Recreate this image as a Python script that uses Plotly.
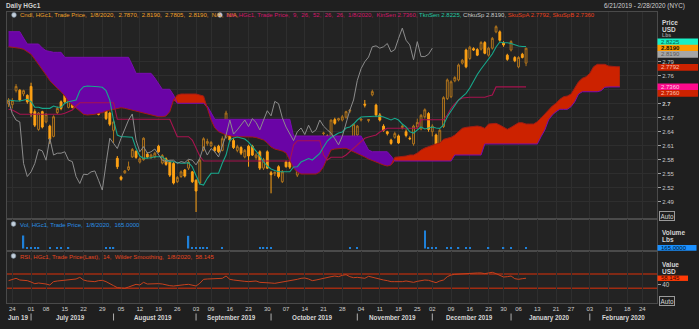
import plotly.graph_objects as go
import pandas as pd

W, H = 699, 329
FONT = "Liberation Sans"

# ---------------- trading calendar (NYC) ----------------
HOLIDAYS = ["2019-07-04", "2019-09-02", "2019-11-28", "2019-12-25",
            "2020-01-01", "2020-01-20", "2020-02-17"]
days = [d for d in pd.bdate_range("2019-06-21", "2020-02-28")
        if d.strftime("%Y-%m-%d") not in HOLIDAYS]

# ---------------- data ----------------
open_ = [2.700, 2.698, 2.728, 2.729, 2.721, 2.718, 2.737, 2.683, 2.645, 2.683,
         2.661, 2.652, 2.630, 2.681, 2.704, 2.718, 2.692, 2.709, 2.703, 2.728,
         2.703, 2.706, 2.700, 2.692, 2.688, 2.695, 2.715, 2.680, 2.643, 2.583,
         2.543, 2.552, 2.559, 2.586, 2.598, 2.575, 2.580, 2.592, 2.585, 2.586,
         2.609, 2.573, 2.582, 2.575, 2.572, 2.533, 2.544, 2.558, 2.562, 2.554,
         2.536, 2.530, 2.601, 2.615, 2.610, 2.606, 2.609, 2.600, 2.628, 2.655,
         2.621, 2.600, 2.606, 2.586, 2.609, 2.609, 2.585, 2.597, 2.562, 2.597,
         2.552, 2.550, 2.565, 2.533, 2.575, 2.575, 2.600, 2.547, 2.597, 2.614,
         2.621, 2.580, 2.583, 2.586, 2.636, 2.631, 2.629, 2.666, 2.665, 2.665,
         2.671, 2.684, 2.629, 2.633, 2.665, 2.699, 2.664, 2.719, 2.697, 2.676,
         2.652, 2.640, 2.622, 2.628, 2.631, 2.649, 2.640, 2.626, 2.614, 2.650,
         2.646, 2.672, 2.679, 2.640, 2.633, 2.612, 2.651, 2.711, 2.715, 2.749,
         2.751, 2.787, 2.815, 2.797, 2.818, 2.816, 2.817, 2.831, 2.804, 2.819,
         2.854, 2.854, 2.830, 2.804, 2.815, 2.799, 2.779, 2.806, 2.787]
high = [2.712, 2.712, 2.742, 2.731, 2.730, 2.720, 2.745, 2.688, 2.682, 2.685,
        2.680, 2.655, 2.675, 2.694, 2.707, 2.722, 2.728, 2.712, 2.709, 2.790,
        2.710, 2.710, 2.708, 2.728, 2.690, 2.725, 2.718, 2.683, 2.664, 2.588,
        2.546, 2.558, 2.576, 2.605, 2.600, 2.585, 2.628, 2.596, 2.593, 2.597,
        2.612, 2.592, 2.585, 2.578, 2.575, 2.545, 2.557, 2.560, 2.580, 2.556,
        2.538, 2.582, 2.628, 2.625, 2.620, 2.610, 2.612, 2.630, 2.685, 2.660,
        2.626, 2.612, 2.609, 2.603, 2.612, 2.612, 2.594, 2.600, 2.584, 2.600,
        2.556, 2.555, 2.568, 2.558, 2.578, 2.578, 2.605, 2.566, 2.625, 2.617,
        2.625, 2.584, 2.596, 2.631, 2.640, 2.634, 2.666, 2.670, 2.670, 2.676,
        2.685, 2.688, 2.657, 2.654, 2.668, 2.708, 2.667, 2.730, 2.700, 2.680,
        2.656, 2.642, 2.625, 2.640, 2.634, 2.656, 2.645, 2.630, 2.655, 2.668,
        2.678, 2.690, 2.682, 2.656, 2.636, 2.646, 2.716, 2.754, 2.750, 2.759,
        2.786, 2.796, 2.818, 2.824, 2.821, 2.819, 2.834, 2.834, 2.822, 2.843,
        2.868, 2.857, 2.834, 2.807, 2.836, 2.802, 2.802, 2.809, 2.819]
low = [2.693, 2.690, 2.724, 2.705, 2.716, 2.700, 2.672, 2.650, 2.642, 2.647,
       2.658, 2.614, 2.628, 2.678, 2.686, 2.700, 2.690, 2.690, 2.700, 2.725,
       2.700, 2.688, 2.698, 2.690, 2.675, 2.693, 2.665, 2.652, 2.616, 2.560,
       2.535, 2.550, 2.556, 2.584, 2.582, 2.572, 2.578, 2.583, 2.582, 2.583,
       2.595, 2.570, 2.567, 2.543, 2.527, 2.530, 2.541, 2.542, 2.558, 2.530,
       2.468, 2.527, 2.598, 2.610, 2.607, 2.596, 2.594, 2.598, 2.625, 2.618,
       2.603, 2.596, 2.590, 2.583, 2.565, 2.588, 2.580, 2.558, 2.558, 2.560,
       2.508, 2.545, 2.540, 2.530, 2.563, 2.560, 2.595, 2.543, 2.594, 2.600,
       2.602, 2.575, 2.580, 2.583, 2.632, 2.620, 2.626, 2.655, 2.662, 2.662,
       2.668, 2.680, 2.625, 2.630, 2.662, 2.692, 2.660, 2.716, 2.672, 2.662,
       2.640, 2.632, 2.612, 2.625, 2.614, 2.645, 2.628, 2.622, 2.610, 2.646,
       2.643, 2.668, 2.640, 2.630, 2.604, 2.608, 2.648, 2.708, 2.712, 2.746,
       2.748, 2.784, 2.776, 2.794, 2.813, 2.802, 2.814, 2.806, 2.801, 2.816,
       2.851, 2.833, 2.822, 2.792, 2.812, 2.789, 2.776, 2.797, 2.7805]
close = [2.708, 2.707, 2.737, 2.708, 2.728, 2.704, 2.680, 2.654, 2.680, 2.650,
         2.677, 2.624, 2.672, 2.690, 2.690, 2.704, 2.708, 2.692, 2.706, 2.745,
         2.707, 2.692, 2.705, 2.697, 2.677, 2.709, 2.668, 2.656, 2.661, 2.565,
         2.538, 2.556, 2.565, 2.602, 2.585, 2.582, 2.626, 2.586, 2.590, 2.594,
         2.597, 2.589, 2.570, 2.547, 2.530, 2.542, 2.554, 2.545, 2.575, 2.533,
         2.513, 2.579, 2.625, 2.619, 2.617, 2.600, 2.597, 2.625, 2.680, 2.622,
         2.606, 2.608, 2.594, 2.600, 2.588, 2.590, 2.590, 2.562, 2.580, 2.562,
         2.548, 2.553, 2.544, 2.554, 2.565, 2.564, 2.597, 2.565, 2.622, 2.601,
         2.604, 2.578, 2.593, 2.629, 2.637, 2.622, 2.665, 2.658, 2.668, 2.672,
         2.683, 2.686, 2.656, 2.652, 2.667, 2.697, 2.666, 2.726, 2.676, 2.665,
         2.643, 2.636, 2.615, 2.636, 2.616, 2.652, 2.632, 2.625, 2.652, 2.660,
         2.675, 2.687, 2.645, 2.652, 2.608, 2.643, 2.713, 2.751, 2.747, 2.756,
         2.783, 2.793, 2.779, 2.821, 2.815, 2.804, 2.831, 2.808, 2.819, 2.840,
         2.865, 2.836, 2.826, 2.795, 2.833, 2.792, 2.799, 2.799, 2.819]

tenkan = [2.7079, 2.7064, 2.7058, 2.7058, 2.7079, 2.7094, 2.7043, 2.6923, 2.6923, 2.6901,
          2.6901, 2.6901, 2.6951, 2.6923, 2.6923, 2.7009, 2.7043, 2.7064, 2.7079, 2.7279,
          2.7364, 2.7379, 2.7379, 2.7364, 2.7364, 2.7351, 2.7279, 2.7079, 2.6651, 2.6329,
          2.6293, 2.6293, 2.6293, 2.6280, 2.6044, 2.5879, 2.5830, 2.5830, 2.5843, 2.5864,
          2.5864, 2.5864, 2.5794, 2.5757, 2.5757, 2.5736, 2.5723, 2.5723, 2.5736, 2.5650,
          2.5451, 2.5280, 2.5258, 2.5402, 2.5509, 2.5509, 2.5509, 2.5723, 2.5901, 2.6222,
          2.6265, 2.6287, 2.6265, 2.6244, 2.6179, 2.6094, 2.5986, 2.5879, 2.5751, 2.5665,
          2.5601, 2.5569, 2.5543, 2.5543, 2.5543, 2.5543, 2.5644, 2.5650, 2.5751, 2.5794,
          2.5826, 2.5794, 2.5858, 2.5937, 2.6072, 2.6201, 2.6276, 2.6329, 2.6372, 2.6394,
          2.6479, 2.6501, 2.6565, 2.6651, 2.6715, 2.6722, 2.6722, 2.6722, 2.6722, 2.6737,
          2.6715, 2.6687, 2.6651, 2.6687, 2.6651, 2.6565, 2.6501, 2.6400, 2.6372, 2.6436,
          2.6501, 2.6458, 2.6479, 2.6501, 2.6479, 2.6473, 2.6544, 2.6722, 2.6844, 2.6951,
          2.7079, 2.7150, 2.7223, 2.7336, 2.7486, 2.7626, 2.7744, 2.7851, 2.7936, 2.8065,
          2.8215, 2.8322, 2.8307, 2.8307, 2.8290, 2.8258, 2.8236, 2.8226, 2.8225]

kijun = [2.6880, 2.6865, 2.6822] + [2.6773] * 12 + [2.6794, 2.6829, 2.6865, 2.6951] \
    + [2.7021] * 10 + [2.6666] * 15 + [2.6479] + [2.6293] * 4 + [2.6222, 2.6051, 2.5879] \
    + [2.5772] * 24 + [2.6115] + [2.6207] * 7 + [2.5901, 2.5794] + [2.5852] * 4 \
    + [2.5901, 2.5971, 2.6051, 2.6115, 2.6179, 2.6259, 2.6287, 2.6308, 2.6329, 2.6394, 2.6436] \
    + [2.6473] * 9 + [2.6657] * 7 + [2.6758, 2.6901, 2.6994, 2.7079, 2.7122] \
    + [2.7137] * 6 + [2.7165, 2.7186] + [2.7360] * 9

chikou = [2.706, 2.679, 2.665, 2.661, 2.572, 2.544, 2.554, 2.572, 2.602, 2.599,
          2.579, 2.626, 2.590, 2.594, 2.594, 2.597, 2.579, 2.576, 2.544, 2.529,
          2.549, 2.548, 2.554, 2.556, 2.536, 2.515, 2.572, 2.626, 2.615, 2.604,
          2.626, 2.644, 2.665, 2.678, 2.622, 2.597, 2.608, 2.594, 2.597, 2.603,
          2.590, 2.579, 2.576, 2.579, 2.579, 2.572, 2.576, 2.574, 2.581, 2.579,
          2.569, 2.583, 2.608, 2.590, 2.604, 2.597, 2.586, 2.612, 2.633, 2.665,
          2.635, 2.644, 2.655, 2.665, 2.651, 2.668, 2.660, 2.644, 2.665, 2.685,
          2.674, 2.705, 2.700, 2.670, 2.650, 2.635, 2.621, 2.640, 2.648, 2.634,
          2.654, 2.638, 2.644, 2.665, 2.652, 2.644, 2.637, 2.625, 2.612, 2.630,
          2.660, 2.686, 2.708, 2.750, 2.775, 2.790, 2.800, 2.822, 2.824, 2.819,
          2.822, 2.829, 2.811, 2.816, 2.840, 2.862, 2.836, 2.826, 2.794, 2.833,
          2.801, 2.801, 2.806, 2.819]

span_a = [2.8221, 2.8215, 2.8200, 2.8187, 2.8166, 2.8114, 2.8059, 2.7951, 2.7844, 2.7737,
          2.7615, 2.7493, 2.7401, 2.7330, 2.7257, 2.7165, 2.7043, 2.6972, 2.6901, 2.6829,
          2.6773, 2.6758, 2.6758, 2.6773, 2.6794, 2.6807, 2.6844, 2.6865, 2.6880, 2.6901,
          2.6914, 2.6901, 2.6880, 2.6865, 2.6844, 2.6822, 2.6794, 2.6773, 2.6752, 2.6730,
          2.6722, 2.6722, 2.6737, 2.6829, 2.7079, 2.7186, 2.7208, 2.7208, 2.7208, 2.7208,
          2.7208, 2.7186, 2.7165, 2.6908, 2.6651, 2.6479, 2.6400, 2.6366, 2.6329, 2.6314,
          2.6293, 2.6293, 2.6293, 2.6293, 2.6293, 2.6287, 2.6276, 2.6244, 2.6222, 2.6158,
          2.6072, 2.6029, 2.6008, 2.5986, 2.5944, 2.5794, 2.5622, 2.5537, 2.5494, 2.5494,
          2.5494, 2.5494, 2.5494, 2.5537, 2.5650, 2.5837, 2.6008, 2.6029, 2.6040, 2.6044,
          2.6044, 2.6008, 2.5971, 2.5944, 2.5901, 2.5858, 2.5815, 2.5783, 2.5751, 2.5708,
          2.5687, 2.5665, 2.5687, 2.5852, 2.5858, 2.5869, 2.5879, 2.5901, 2.5901, 2.5944,
          2.6008, 2.6051, 2.6083, 2.6104, 2.6137, 2.6158, 2.6237, 2.6259, 2.6280, 2.6329,
          2.6400, 2.6473, 2.6494, 2.6507, 2.6522, 2.6522, 2.6507, 2.6473, 2.6565, 2.6580,
          2.6580, 2.6544, 2.6494, 2.6452, 2.6494, 2.6544, 2.6593, 2.6593, 2.6565, 2.6565,
          2.6565, 2.6614, 2.6709, 2.6779, 2.6865, 2.6951, 2.7009, 2.7094, 2.7150, 2.7165,
          2.7208, 2.7330, 2.7471, 2.7544, 2.7579, 2.7651, 2.7793, 2.7844, 2.7844, 2.7844,
          2.7808, 2.7793, 2.7793, 2.7792]

span_b = [2.8543] * 4 + [2.8408] + [2.8279] * 4 + [2.8193, 2.8136, 2.8119] + [2.8101] * 3 \
    + [2.7994] * 18 + [2.7829] + [2.7651] * 5 + [2.7551, 2.7422] + [2.7309] * 3 + [2.7186] \
    + [2.7009] * 8 + [2.6951, 2.6794] + [2.6666] * 21 + [2.6308] * 19 + [2.6158, 2.6008] \
    + [2.5971] * 5 + [2.5879] + [2.5772] * 16 + [2.5901] * 8 + [2.6137] * 15 \
    + [2.6293, 2.6436, 2.6651, 2.6758, 2.6829] + [2.6880] * 3 + [2.6936, 2.7043, 2.7208] \
    + [2.7257] * 5 + [2.7279, 2.7351] + [2.7360] * 4

rsi = [51.4, 55.1, 57.9, 53.2, 52.3, 51.4, 47.6, 42.9, 44.8, 43.9,
       42.0, 39.2, 48.6, 50.4, 51.4, 53.2, 54.2, 55.1, 56.0, 60.7,
       53.2, 50.4, 49.5, 48.6, 51.4, 52.3, 48.6, 43.9, 37.4, 31.8,
       29.9, 29.9, 33.6, 37.4, 41.1, 39.2, 46.7, 42.0, 43.0, 43.9,
       43.0, 42.0, 39.2, 37.4, 36.4, 38.3, 39.2, 40.2, 41.1, 38.3,
       36.4, 43.9, 55.1, 56.0, 56.0, 56.0, 56.0, 57.9, 64.4, 55.1,
       53.2, 51.4, 50.4, 49.5, 48.6, 49.5, 50.4, 46.7, 46.7, 46.7,
       44.8, 43.9, 45.8, 46.7, 47.6, 49.5, 51.4, 55.1, 57.9, 58.8,
       56.0, 51.4, 53.2, 56.0, 58.8, 60.7, 62.5, 64.4, 62.5, 66.3,
       68.1, 62.5, 59.7, 60.7, 58.8, 57.9, 63.5, 60.7, 57.9, 54.2,
       53.2, 51.4, 48.6, 48.6, 47.6, 48.6, 50.4, 48.6, 46.7, 49.5,
       51.4, 53.2, 52.3, 49.5, 45.8, 50.4, 53.2, 62.5, 67.2, 69.1,
       70.0, 70.0, 70.0, 71.0, 71.9, 72.8, 72.8, 71.0, 72.8, 74.7,
       71.0, 66.3, 61.6, 62.5, 64.4, 56.9, 55.1, 56.9, 58.145]

vol_day = [4, 5, 6, 7, 8, 11, 13, 14, 16, 26, 27, 28, 48, 49, 50, 51, 52, 53, 57,
           67, 68, 69, 70, 91, 93, 111, 112, 113, 114, 117, 118, 120, 122, 123,
           128, 132, 134, 138]
vol_value = [3900, 320, 280, 300, 260, 260, 250, 300, 260, 250, 300, 260, 3800, 350,
             300, 300, 320, 260, 250, 260, 250, 300, 260, 250, 260, 5400, 350, 300,
             300, 260, 250, 250, 250, 260, 250, 250, 250, 165]

PRICE_TICKS = [2.49, 2.52, 2.55, 2.58, 2.61, 2.64, 2.67, 2.70, 2.73, 2.76, 2.79, 2.82]
PRICE_TICK_TEXT = ["2.49", "2.52", "2.55", "2.58", "2.61", "2.64", "2.67", "<b>2.7</b>",
                   "", "2.76", "2.79", ""]
MONTH_LABELS = ["Jun 19", "July 2019", "August 2019", "September 2019", "October 2019",
                "November 2019", "December 2019", "January 2020", "February 2020"]

# ---------------- colours ----------------
BG = "#1f1f1f"
PLOT_BG = "#232323"
GRID = "#2e2e2e"
FRAME = "#4a4a4a"
PURPLE = "#6a04a6"
RED = "#cc2200"
C_UP = "#b0741c"
C_DN = "#ffa214"
C_TENKAN = "#17a88c"
C_KIJUN = "#a8134f"
C_CHIKOU = "#8c8c8c"
C_SPANA = "#a01c14"
C_SPANB = "#7a0cb0"
C_RSI = "#c8401c"
C_RSI_LEVEL = "#a02c12"
C_VOL = "#1f80d8"

# ---------------- geometry helpers (pixels -> paper) ----------------
def fx(px):
    return px / W

def fy(py):
    return 1 - py / H

X_LEFT, X_RIGHT = 7, 657
MAIN_TOP, MAIN_BOT = 12, 219
VOL_BOT = 251
RSI_BOT = 303
XR = [-0.413, 172.92]
YR_MAIN = [2.4530, 2.8965]
YR_VOL = [-750, 8850]
YR_RSI = [-11.1, 134.3]
PPX_MAIN = (YR_MAIN[1] - YR_MAIN[0]) / (MAIN_BOT - MAIN_TOP)
PPX_VOL = (YR_VOL[1] - YR_VOL[0]) / (VOL_BOT - MAIN_BOT)
PPX_RSI = (YR_RSI[1] - YR_RSI[0]) / (RSI_BOT - VOL_BOT)

# weekly ticks (first trading day of every week, the partial first week skipped)
week_ticks, seen = [], set()
for i, d in enumerate(days):
    k = tuple(d.isocalendar())[:2]
    if k not in seen:
        seen.add(k)
        week_ticks.append(i)
week_ticks = week_ticks[1:]
week_text = [days[i].strftime("%d") for i in week_ticks]

month_first, month_last = {}, {}
for i, d in enumerate(days):
    k = (d.year, d.month)
    month_first.setdefault(k, i)
    month_last[k] = i
month_keys = sorted(month_first)

cx = list(range(len(close)))
kx = list(range(len(span_a)))
chx = list(range(len(chikou)))
cloud_low = [min(a, b) for a, b in zip(span_a, span_b)]

fig = go.Figure()

# Ichimoku cloud
fig.add_trace(go.Scatter(x=kx, y=cloud_low, mode="lines", line=dict(width=0),
                         hoverinfo="skip"))
fig.add_trace(go.Scatter(x=kx, y=span_b, mode="lines", line=dict(width=0),
                         fill="tonexty", fillcolor=PURPLE, hoverinfo="skip"))
fig.add_trace(go.Scatter(x=kx, y=cloud_low, mode="lines", line=dict(width=0),
                         hoverinfo="skip"))
fig.add_trace(go.Scatter(x=kx, y=span_a, mode="lines", line=dict(width=0),
                         fill="tonexty", fillcolor=RED, hoverinfo="skip"))
fig.add_trace(go.Scatter(x=kx, y=span_b, mode="lines", line=dict(color=C_SPANB, width=1)))
fig.add_trace(go.Scatter(x=kx, y=span_a, mode="lines", line=dict(color=C_SPANA, width=1)))

# Ichimoku lines
fig.add_trace(go.Scatter(x=cx, y=kijun, mode="lines", line=dict(color=C_KIJUN, width=1.1)))
fig.add_trace(go.Scatter(x=cx, y=tenkan, mode="lines", line=dict(color=C_TENKAN, width=1.1)))
fig.add_trace(go.Scatter(x=chx, y=chikou, mode="lines", line=dict(color=C_CHIKOU, width=1)))

# candles
fig.add_trace(go.Candlestick(
    x=cx, open=open_, high=high, low=low, close=close, whiskerwidth=0,
    increasing=dict(line=dict(color=C_UP, width=1), fillcolor="rgba(0,0,0,0)"),
    decreasing=dict(line=dict(color=C_DN, width=1), fillcolor=C_DN),
    xaxis="x", yaxis="y"))

# volume
fig.add_trace(go.Bar(x=vol_day, y=vol_value, width=0.35, marker=dict(color=C_VOL, line=dict(width=0)),
                     xaxis="x2", yaxis="y2"))

# RSI
fig.add_trace(go.Scatter(x=cx, y=rsi, mode="lines", line=dict(color=C_RSI, width=1),
                         xaxis="x3", yaxis="y3"))

axis_common = dict(range=XR, tickvals=week_ticks, showgrid=True, gridcolor=GRID, gridwidth=1,
                   zeroline=False, showline=True, linecolor=FRAME, mirror=True,
                   domain=[fx(X_LEFT), fx(X_RIGHT)], automargin=False, fixedrange=True)

fig.update_layout(
    width=W, height=H, margin=dict(l=0, r=0, t=0, b=0),
    paper_bgcolor=BG, plot_bgcolor=PLOT_BG, showlegend=False, boxgap=0.3,
    font=dict(family=FONT, size=6, color="#c8c8c8"),
    xaxis=dict(anchor="y", showticklabels=False, ticks="", rangeslider=dict(visible=False),
               **axis_common),
    xaxis2=dict(anchor="y2", showticklabels=False, ticks="", **axis_common),
    xaxis3=dict(anchor="y3", showticklabels=True, ticktext=week_text, ticks="",
                ticklen=0, tickfont=dict(family=FONT, size=6, color="#cfcfcf"), **axis_common),
    yaxis=dict(domain=[fy(MAIN_BOT), fy(MAIN_TOP)], range=YR_MAIN, side="right", anchor="x",
               tickvals=PRICE_TICKS, ticktext=PRICE_TICK_TEXT, ticks="outside", ticklen=3,
               tickcolor="#a0a0a0", tickfont=dict(family=FONT, size=6, color="#c8c8c8"),
               showgrid=True, gridcolor=GRID, zeroline=False, showline=True,
               linecolor=FRAME, mirror=True, automargin=False, fixedrange=True),
    yaxis2=dict(domain=[fy(VOL_BOT), fy(MAIN_BOT)], range=YR_VOL, side="right", anchor="x2",
                showticklabels=False, showgrid=False, zeroline=False, showline=True,
                linecolor=FRAME, mirror=True, automargin=False, fixedrange=True),
    yaxis3=dict(domain=[fy(RSI_BOT), fy(VOL_BOT)], range=YR_RSI, side="right", anchor="x3",
                tickvals=[40], ticktext=["40"], ticks="outside", ticklen=3, tickcolor="#a0a0a0",
                tickfont=dict(family=FONT, size=6.3, color="#c8c8c8"),
                showgrid=False, zeroline=False, showline=True, linecolor=FRAME, mirror=True,
                automargin=False, fixedrange=True),
)

shapes = []
annotations = []

# RSI 70 / 30 levels
for lvl in (70, 30):
    shapes.append(dict(type="line", xref="paper", yref="y3", x0=fx(X_LEFT), x1=fx(X_RIGHT),
                       y0=lvl, y1=lvl, line=dict(color=C_RSI_LEVEL, width=1.6), layer="below"))

# month separators + labels
for k in month_keys[1:]:
    shapes.append(dict(type="line", xref="x3", yref="paper", x0=month_first[k], x1=month_first[k],
                       y0=fy(320.5), y1=fy(313.5), line=dict(color="#b0b0b0", width=1)))
for k, lab in zip(month_keys, MONTH_LABELS):
    annotations.append(dict(xref="x3", yref="paper", x=(month_first[k] + month_last[k]) / 2,
                            y=fy(317.5), text="<b>%s</b>" % lab, showarrow=False,
                            xanchor="center", yanchor="middle",
                            font=dict(family=FONT, size=6.3, color="#d6d6d6")))

# header texts
annotations.append(dict(xref="paper", yref="paper", x=fx(4), y=fy(6.5), text="<b>Daily HGc1</b>",
                        showarrow=False, xanchor="left", yanchor="middle",
                        font=dict(family=FONT, size=6.5, color="#d0d0d0")))
annotations.append(dict(xref="paper", yref="paper", x=fx(687), y=fy(6.5),
                        text="6/21/2019 - 2/28/2020 (NYC)", showarrow=False,
                        xanchor="right", yanchor="middle",
                        font=dict(family=FONT, size=6.3, color="#d0d0d0")))

# legend icons
for (ix, iy) in [(14, 15), (220, 15), (13.5, 224), (13.5, 256)]:
    shapes.append(dict(type="circle", xref="paper", yref="paper", x0=fx(ix - 2.4), x1=fx(ix + 2.4),
                       y0=fy(iy + 2.4), y1=fy(iy - 2.4), fillcolor="#c4d0dc",
                       line=dict(color="#6f7f90", width=0.6)))

def leg(x, y, html):
    annotations.append(dict(xref="paper", yref="paper", x=fx(x), y=fy(y), text=html,
                            showarrow=False, xanchor="left", yanchor="middle",
                            font=dict(family=FONT, size=6)))

leg(18, 15.5, "<span style='color:#f0a028'>Cndl, HGc1, Trade Price,  1/8/2020,  2.7870,  2.8190,  "
              "2.7805,  2.8190,  N/A,  N/A,</span>")
leg(224, 15.5, "<span style='color:#d4166a'>Ichi, HGc1, Trade Price,  9,  26,  52,  26,  26,  1/8/2020,  "
               "KinSen 2.7360, </span><span style='color:#22c9a2'>TknSen 2.8225, </span>"
               "<span style='color:#c8c8c8'>ChkuSp 2.8190, </span>"
               "<span style='color:#e8401c'>SkuSpA 2.7792, </span>"
               "<span style='color:#e8401c'>SkuSpB 2.7360</span>")
leg(17.5, 224.5, "<span style='color:#2a90e6'>Vol, HGc1, Trade Price,  1/8/2020,  165.0000</span>")
leg(17.5, 256.5, "<span style='color:#e8461e'>RSI, HGc1, Trade Price(Last),  14,  Wilder Smoothing,  "
                 "1/8/2020,  58.145</span>")

# right-column captions
def cap(y, text, bold=False, color="#d4d4d4", size=6.5):
    annotations.append(dict(xref="paper", yref="paper", x=fx(660), y=fy(y),
                            text=("<b>%s</b>" % text) if bold else text, showarrow=False,
                            xanchor="left", yanchor="middle",
                            font=dict(family=FONT, size=size, color=color)))

cap(22.5, "Price", True)
cap(29.3, "USD", True)
cap(34.6, "Lbs", True, "#9a9a9a", 5.2)
cap(232.5, "Volume", True)
cap(239.7, "Lbs", True)
cap(264, "Value", True)
cap(271.5, "USD", True)

def auto_box(y):
    annotations.append(dict(xref="paper", yref="paper", x=fx(659), y=fy(y), text="Auto",
                            showarrow=False, xanchor="left", yanchor="middle",
                            bordercolor="#9a9a9a", borderwidth=1, borderpad=0.5,
                            font=dict(family=FONT, size=6.3, color="#d8d8d8")))

auto_box(216)
auto_box(300.5)

# value tags on the right axis
def tag(yref, center, half, text, bg, fg, bold=False, x1=698, size=6.0):
    shapes.append(dict(type="rect", xref="paper", yref=yref, x0=fx(657.5), x1=fx(x1),
                       y0=center - half, y1=center + half, fillcolor=bg, line=dict(width=0),
                       layer="above"))
    annotations.append(dict(xref="paper", yref=yref, x=fx(658.5), y=center,
                            text=("<b>%s</b>" % text) if bold else text, showarrow=False,
                            xanchor="left", yanchor="middle",
                            font=dict(family=FONT, size=size, color=fg)))

HALF = 3.3 * PPX_MAIN
main_tags = [  # (value, shift in px, text, bg, fg, bold)
    (tenkan[-1], -4.8, "2.8225", "#18f0c6", "#0b5a48", False),
    (close[-1], 0.0, "2.8190", "#ff9a00", "#1a1000", True),
    (chikou[-1], 6.2, "2.8190", "#a6a6a6", "#5a5a5a", False),
    (span_a[-1], 0.6, "2.7792", "#cc2200", "#ffc0b0", False),
    (kijun[-1], 0.0, "2.7360", "#ff0a8c", "#ffd0e6", False),
    (span_b[-1], 6.5, "2.7360", "#cc2200", "#ffc0b0", False),
]
for val, shift, txt, bg, fg, b in main_tags:
    tag("y", val - shift * PPX_MAIN, HALF, txt, bg, fg, b)

tag("y2", vol_value[-1], 2.9 * PPX_VOL, "165.0000", "#1a90ff", "#001428", False, x1=696.5)
tag("y3", rsi[-1], 2.7 * PPX_RSI, "58.145", "#ff3a06", "#3a0800", False, x1=688)

fig.update_layout(shapes=shapes, annotations=annotations)
fig.write_html("out.html")
